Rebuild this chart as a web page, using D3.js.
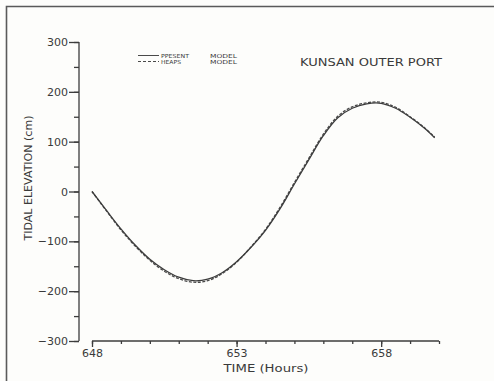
<!DOCTYPE html>
<html>
<head>
<meta charset="utf-8">
<script src="https://cdn.jsdelivr.net/npm/d3@7"></script>
<style>
  html, body { margin: 0; padding: 0; background: #fdfdfb; }
  svg { display: block; }
  text { font-family: "DejaVu Sans", sans-serif; fill: #3a3a3a; }
</style>
</head>
<body>
<script>
const hours = [648, 648.5, 649, 649.5, 650, 650.5, 651, 651.5, 652, 652.5, 653, 653.5,
               654, 654.5, 655, 655.5, 656, 656.5, 657, 657.5, 658, 658.5, 659, 659.5, 659.85];
const presentModel = [0, -38, -75, -108, -136, -157, -172, -179, -176, -163, -141, -112,
                      -78, -35, 15, 64, 112, 148, 167, 176, 177, 167, 149, 127, 108];
const heapsModel = [0, -39, -77, -110, -138, -160, -175, -182, -179, -165, -142, -111,
                    -76, -32, 18, 67, 115, 151, 170, 178, 179, 169, 150, 128, 109];
const yTicks = [-300, -200, -100, 0, 100, 200, 300];
const xTickLabels = [648, 653, 658];
const seriesNames = ["PPESENT", "HEAPS"];
const title = "KUNSAN OUTER PORT";

const W = 494, H = 381;
const svg = d3.select("body").append("svg").attr("width", W).attr("height", H);

// scanned page frame
svg.append("path")
  .attr("d", `M6.5,${H} V6.5 H${W}`)
  .attr("fill", "none").attr("stroke", "#5a5a5a").attr("stroke-width", 1.6);

const x = d3.scaleLinear().domain([648, 660]).range([92, 439]);
const y = d3.scaleLinear().domain([-300, 300]).range([341, 42]);
const axisColor = "#3c3c3c";

// Y axis
const yAxisX = 79;
const gy = svg.append("g").attr("transform", `translate(${yAxisX},0)`);
gy.call(d3.axisLeft(y).tickValues(d3.range(-300, 301, 50)).tickSize(5).tickFormat(""));
gy.call(g => g.select(".domain").remove());
gy.append("line").attr("x1", 0).attr("x2", 0).attr("y1", y(300)).attr("y2", y(-300))
  .attr("stroke", axisColor).attr("stroke-width", 1.4);
const gyMajor = svg.append("g").attr("transform", `translate(${yAxisX},0)`)
  .call(d3.axisLeft(y).tickValues(yTicks).tickSize(10).tickPadding(1)
        .tickFormat(d => d < 0 ? "\u2212" + Math.abs(d) : String(d)));
gyMajor.select(".domain").remove();
gyMajor.selectAll("text").attr("font-size", 11).attr("font-family", "DejaVu Sans").attr("fill", "#3a3a3a");

// X axis
const gx = svg.append("g").attr("transform", `translate(0,341)`);
gx.call(d3.axisBottom(x).tickValues(d3.range(648, 661, 1)).tickSize(3).tickFormat(""));
gx.select(".domain").remove();
gx.append("line").attr("x1", x(648)).attr("x2", x(660)).attr("y1", 0).attr("y2", 0)
  .attr("stroke", axisColor).attr("stroke-width", 1.4);
const gxMajor = svg.append("g").attr("transform", `translate(0,341)`)
  .call(d3.axisBottom(x).tickValues(xTickLabels).tickSize(6).tickPadding(2).tickFormat(d3.format("d")));
gxMajor.select(".domain").remove();
gxMajor.selectAll("text").attr("font-size", 11).attr("font-family", "DejaVu Sans").attr("fill", "#3a3a3a");
svg.selectAll("g line").attr("stroke", axisColor).attr("stroke-width", 1.3);

// Axis titles
svg.append("text").attr("x", 266).attr("y", 372).attr("text-anchor", "middle")
  .attr("font-size", 11).attr("textLength", 85).attr("lengthAdjust", "spacingAndGlyphs")
  .text("TIME (Hours)");
svg.append("text").attr("transform", "translate(32,178) rotate(-90)").attr("text-anchor", "middle")
  .attr("font-size", 10).attr("textLength", 125).attr("lengthAdjust", "spacingAndGlyphs")
  .text("TIDAL ELEVATION (cm)");

// Title
svg.append("text").attr("x", 300).attr("y", 66).attr("font-size", 10)
  .attr("textLength", 142).attr("lengthAdjust", "spacingAndGlyphs").text(title);

// Lines
const line = d3.line().x((d, i) => x(hours[i])).y(d => y(d)).curve(d3.curveCatmullRom.alpha(0.5));
svg.append("path").datum(heapsModel).attr("d", line).attr("fill", "none")
  .attr("stroke", "#4a4a4a").attr("stroke-width", 1.3).attr("stroke-dasharray", "3,1.5");
svg.append("path").datum(presentModel).attr("d", line).attr("fill", "none")
  .attr("stroke", "#3c3c3c").attr("stroke-width", 1.3);

// Legend
const legY = [55.5, 61.5];
seriesNames.forEach((name, i) => {
  svg.append("line").attr("x1", 138).attr("x2", 159).attr("y1", legY[i]).attr("y2", legY[i])
    .attr("stroke", "#4a4a4a").attr("stroke-width", 1)
    .attr("stroke-dasharray", i === 1 ? "3,2" : null);
  svg.append("text").attr("x", 161).attr("y", legY[i] + 2).attr("font-size", 5.5)
    .attr("textLength", name.length * 4).attr("lengthAdjust", "spacingAndGlyphs").text(name);
  svg.append("text").attr("x", 210).attr("y", legY[i] + 2).attr("font-size", 5.5)
    .attr("textLength", 27).attr("lengthAdjust", "spacingAndGlyphs").text("MODEL");
});
</script>
</body>
</html>
